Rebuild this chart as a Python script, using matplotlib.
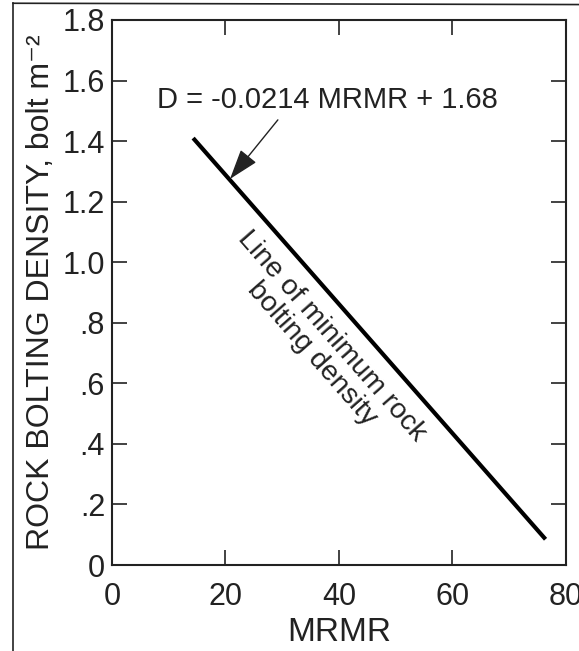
import matplotlib
matplotlib.use("Agg")
import matplotlib.pyplot as plt
from matplotlib.lines import Line2D

plt.rcParams["font.family"] = ["Liberation Sans", "DejaVu Sans"]

# Line of minimum rock bolting density (end points)
mrmr = [14.3, 76.4]
density = [1.41, 0.085]

x_ticks = [0, 20, 40, 60, 80]
x_labels = ["0", "20", "40", "60", "80"]
y_ticks = [0, 0.2, 0.4, 0.6, 0.8, 1.0, 1.2, 1.4, 1.6, 1.8]
y_labels = ["0", ".2", ".4", ".6", ".8", "1.0", "1.2", "1.4", "1.6", "1.8"]

equation = "D = -0.0214 MRMR + 1.68"
line_note = "Line of minimum rock\nbolting density"

fig = plt.figure(figsize=(5.79, 6.51), dpi=100)
ax = fig.add_axes([0.1934, 0.1321, 0.7841, 0.8372])

ax.plot(mrmr, density, color="black", lw=3, solid_capstyle="butt")

ax.set_xlim(0, 80)
ax.set_ylim(0, 1.8)
ax.set_xticks(x_ticks)
ax.set_xticklabels(x_labels)
ax.set_yticks(y_ticks)
ax.set_yticklabels(y_labels)
ax.tick_params(direction="in", length=11, width=1.2, labelsize=22,
               top=True, right=True, pad=5, colors="#222222")
ax.tick_params(axis="x", pad=12)
for s in ax.spines.values():
    s.set_linewidth(1.5)
    s.set_color("#222222")

ax.set_xlabel("MRMR", fontsize=24, labelpad=4, color="#222222")
ax.set_ylabel("ROCK BOLTING DENSITY, bolt m\u207b\u00b2", fontsize=23,
              labelpad=5, color="#222222")

ax.annotate(equation, xy=(20.8, 1.275), xytext=(37.9, 1.49),
            fontsize=21, ha="center", va="bottom", color="#222222",
            arrowprops=dict(arrowstyle="-|>,head_length=0.9,head_width=0.3",
                            color="#222222", lw=1, shrinkA=3, shrinkB=0,
                            relpos=(0.37, 0.0)))

ax.text(37.0, 0.727, line_note, fontsize=20.5, ha="center", va="center",
        rotation=-48.7, rotation_mode="anchor", linespacing=1.0,
        color="#222222")

# scan frame (left and top edges)
fig.add_artist(Line2D([0.0225, 0.0225], [0.0, 0.995], color="#222222", lw=1.2,
                      transform=fig.transFigure))
fig.add_artist(Line2D([0.0225, 1.0], [0.995, 0.993], color="#222222", lw=1.2,
                      transform=fig.transFigure))

fig.savefig("out.png", dpi=100)
